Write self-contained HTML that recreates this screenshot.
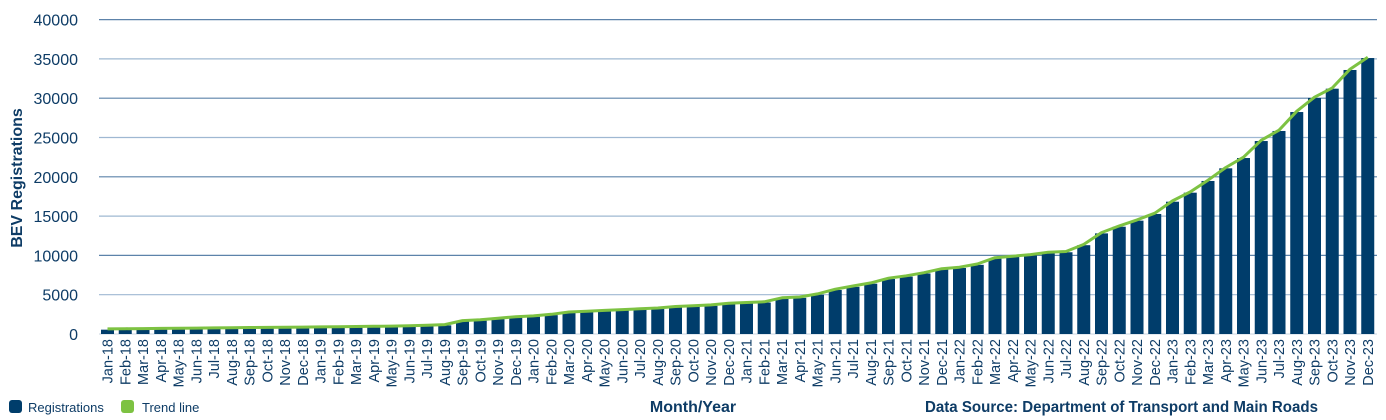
<!DOCTYPE html>
<html><head><meta charset="utf-8"><style>
html,body{margin:0;padding:0;background:#fff;}
svg{display:block;font-family:"Liberation Sans Narrow","Liberation Sans",sans-serif;}
</style></head><body>
<svg id="c" width="1386" height="420" viewBox="0 0 1386 420" xmlns="http://www.w3.org/2000/svg"></svg>
<script>
const vals=[550,570,590,610,630,650,670,700,720,740,760,780,800,820,850,880,900,950,1000,1100,
1600,1700,1900,2100,2200,2400,2700,2800,2900,3000,3100,3200,3400,3500,3600,3800,3900,4000,4500,4600,5000,5600,6000,6400,7000,7300,7700,8200,8400,8800,9600,9800,10000,10300,10400,11300,12800,13650,14420,15270,16830,17980,19470,21080,22390,24550,25830,28240,30030,31210,33590,35110];
const mon=["Jan","Feb","Mar","Apr","May","Jun","Jul","Aug","Sep","Oct","Nov","Dec"];
const y0=334, k=39.3/5000, x0=101, sp=17.75, bw=13;
let s='';
const col='#0e3c66';
for(let i=0;i<=8;i++){const y=y0-i*39.3;
 if(i>0) s+=`<line x1="99" x2="1377" y1="${y}" y2="${y}" stroke="${i%2?'#9fb8d2':'#5d83aa'}" stroke-width="1.2"/>`;
 s+=`<text x="78" y="${y+6}" text-anchor="end" font-size="16" fill="${col}">${i*5000}</text>`;}
s+=`<line x1="99" x2="1377" y1="${y0}" y2="${y0}" stroke="#c9d5e2" stroke-width="1"/>`;
let pts=[];
vals.forEach((v,i)=>{const x=x0+i*sp,h=v*k;
 s+=`<rect x="${x}" y="${y0-h}" width="${bw}" height="${h}" fill="#003d6b"/>`;
 pts.push(`${(x+bw/2).toFixed(1)},${(y0-h-0.8).toFixed(1)}`);
 const lab=mon[i%12]+'-'+(18+Math.floor(i/12));
 const cx=x+bw/2+5;
 s+=`<text transform="translate(${cx},339) rotate(-90)" text-anchor="end" font-size="14.5" fill="${col}">${lab}</text>`;});
s+=`<polyline points="${pts.join(' ')}" fill="none" stroke="#7dc242" stroke-width="3" stroke-linejoin="round"/>`;
s+=`<text transform="translate(22,178) rotate(-90)" text-anchor="middle" font-size="16" font-weight="bold" fill="${col}">BEV Registrations</text>`;
s+=`<rect x="9" y="400" width="13" height="13" rx="3" fill="#003d6b"/><text x="28" y="412" font-size="13" fill="${col}">Registrations</text>`;
s+=`<rect x="121" y="400" width="13" height="13" rx="3" fill="#7dc242"/><text x="142" y="412" font-size="13" fill="${col}">Trend line</text>`;
s+=`<text x="693" y="412" text-anchor="middle" font-size="16" font-weight="bold" fill="${col}">Month/Year</text>`;
s+=`<text x="925" y="412" textLength="393" lengthAdjust="spacingAndGlyphs" font-size="16" font-weight="bold" fill="${col}">Data Source:  Department of Transport and Main Roads</text>`;
document.getElementById('c').innerHTML=s;
</script>
</body></html>
